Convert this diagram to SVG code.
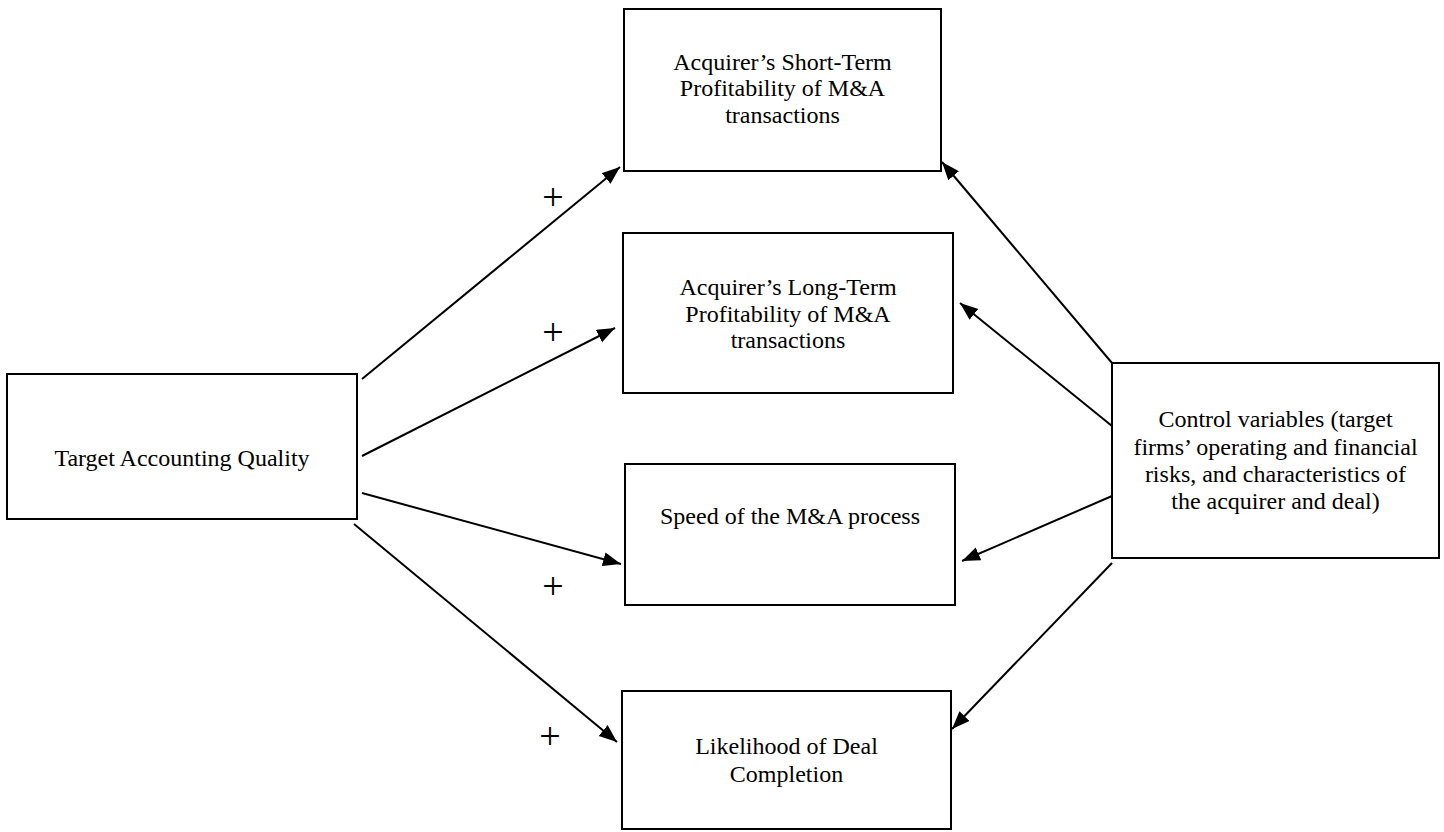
<svg xmlns="http://www.w3.org/2000/svg" width="1444" height="832" viewBox="0 0 1444 832">
  <style>
    .box { fill: #fff; stroke: #000; stroke-width: 2; }
    .label { font-family: "Liberation Serif", "Times New Roman", serif; font-size: 24px; fill: #000; text-anchor: middle; }
    .sign { font-family: "Liberation Serif", "Times New Roman", serif; font-size: 38px; fill: #000; text-anchor: middle; }
    .edge { stroke: #000; stroke-width: 2; fill: none; marker-end: url(#arrow); }
  </style>
  <defs>
    <marker id="arrow" markerUnits="userSpaceOnUse" markerWidth="20" markerHeight="16" refX="18" refY="7" orient="auto">
      <path d="M0,0 L18,7 L0,14 Z" fill="#000"/>
    </marker>
  </defs>
  <rect width="1444" height="832" fill="#fff"/>

  <g id="connectors">
    <line class="edge" x1="362" y1="379" x2="620" y2="167"/>
    <line class="edge" x1="362" y1="456" x2="615" y2="328"/>
    <line class="edge" x1="362" y1="493" x2="621" y2="564"/>
    <line class="edge" x1="354" y1="524" x2="617" y2="742"/>
    <line class="edge" x1="1112" y1="363" x2="942" y2="162"/>
    <line class="edge" x1="1112" y1="426" x2="960" y2="303"/>
    <line class="edge" x1="1112" y1="496" x2="962" y2="561"/>
    <line class="edge" x1="1112" y1="563" x2="952" y2="729"/>
  </g>

  <g id="signs">
    <text class="sign" x="553" y="210">+</text>
    <text class="sign" x="553" y="345">+</text>
    <text class="sign" x="553" y="599">+</text>
    <text class="sign" x="550" y="749">+</text>
  </g>

  <g id="node-short-term">
    <rect class="box" x="624" y="9" width="317" height="162"/>
    <text class="label" x="782.5" y="70">Acquirer’s Short-Term</text>
    <text class="label" x="782.5" y="96">Profitability of M&amp;A</text>
    <text class="label" x="782.5" y="123">transactions</text>
  </g>

  <g id="node-long-term">
    <rect class="box" x="623" y="233" width="330" height="160"/>
    <text class="label" x="788" y="295">Acquirer’s Long-Term</text>
    <text class="label" x="788" y="322">Profitability of M&amp;A</text>
    <text class="label" x="788" y="348">transactions</text>
  </g>

  <g id="node-target">
    <rect class="box" x="7" y="374" width="350" height="145"/>
    <text class="label" x="182" y="466">Target Accounting Quality</text>
  </g>

  <g id="node-speed">
    <rect class="box" x="625" y="464" width="330" height="141"/>
    <text class="label" x="790" y="524">Speed of the M&amp;A process</text>
  </g>

  <g id="node-likelihood">
    <rect class="box" x="622" y="691" width="329" height="138"/>
    <text class="label" x="786.5" y="754">Likelihood of Deal</text>
    <text class="label" x="786.5" y="782">Completion</text>
  </g>

  <g id="node-controls">
    <rect class="box" x="1112" y="363" width="327" height="195"/>
    <text class="label" x="1275.5" y="427">Control variables (target</text>
    <text class="label" x="1275.5" y="455">firms’ operating and financial</text>
    <text class="label" x="1275.5" y="482">risks, and characteristics of</text>
    <text class="label" x="1275.5" y="509">the acquirer and deal)</text>
  </g>
</svg>
